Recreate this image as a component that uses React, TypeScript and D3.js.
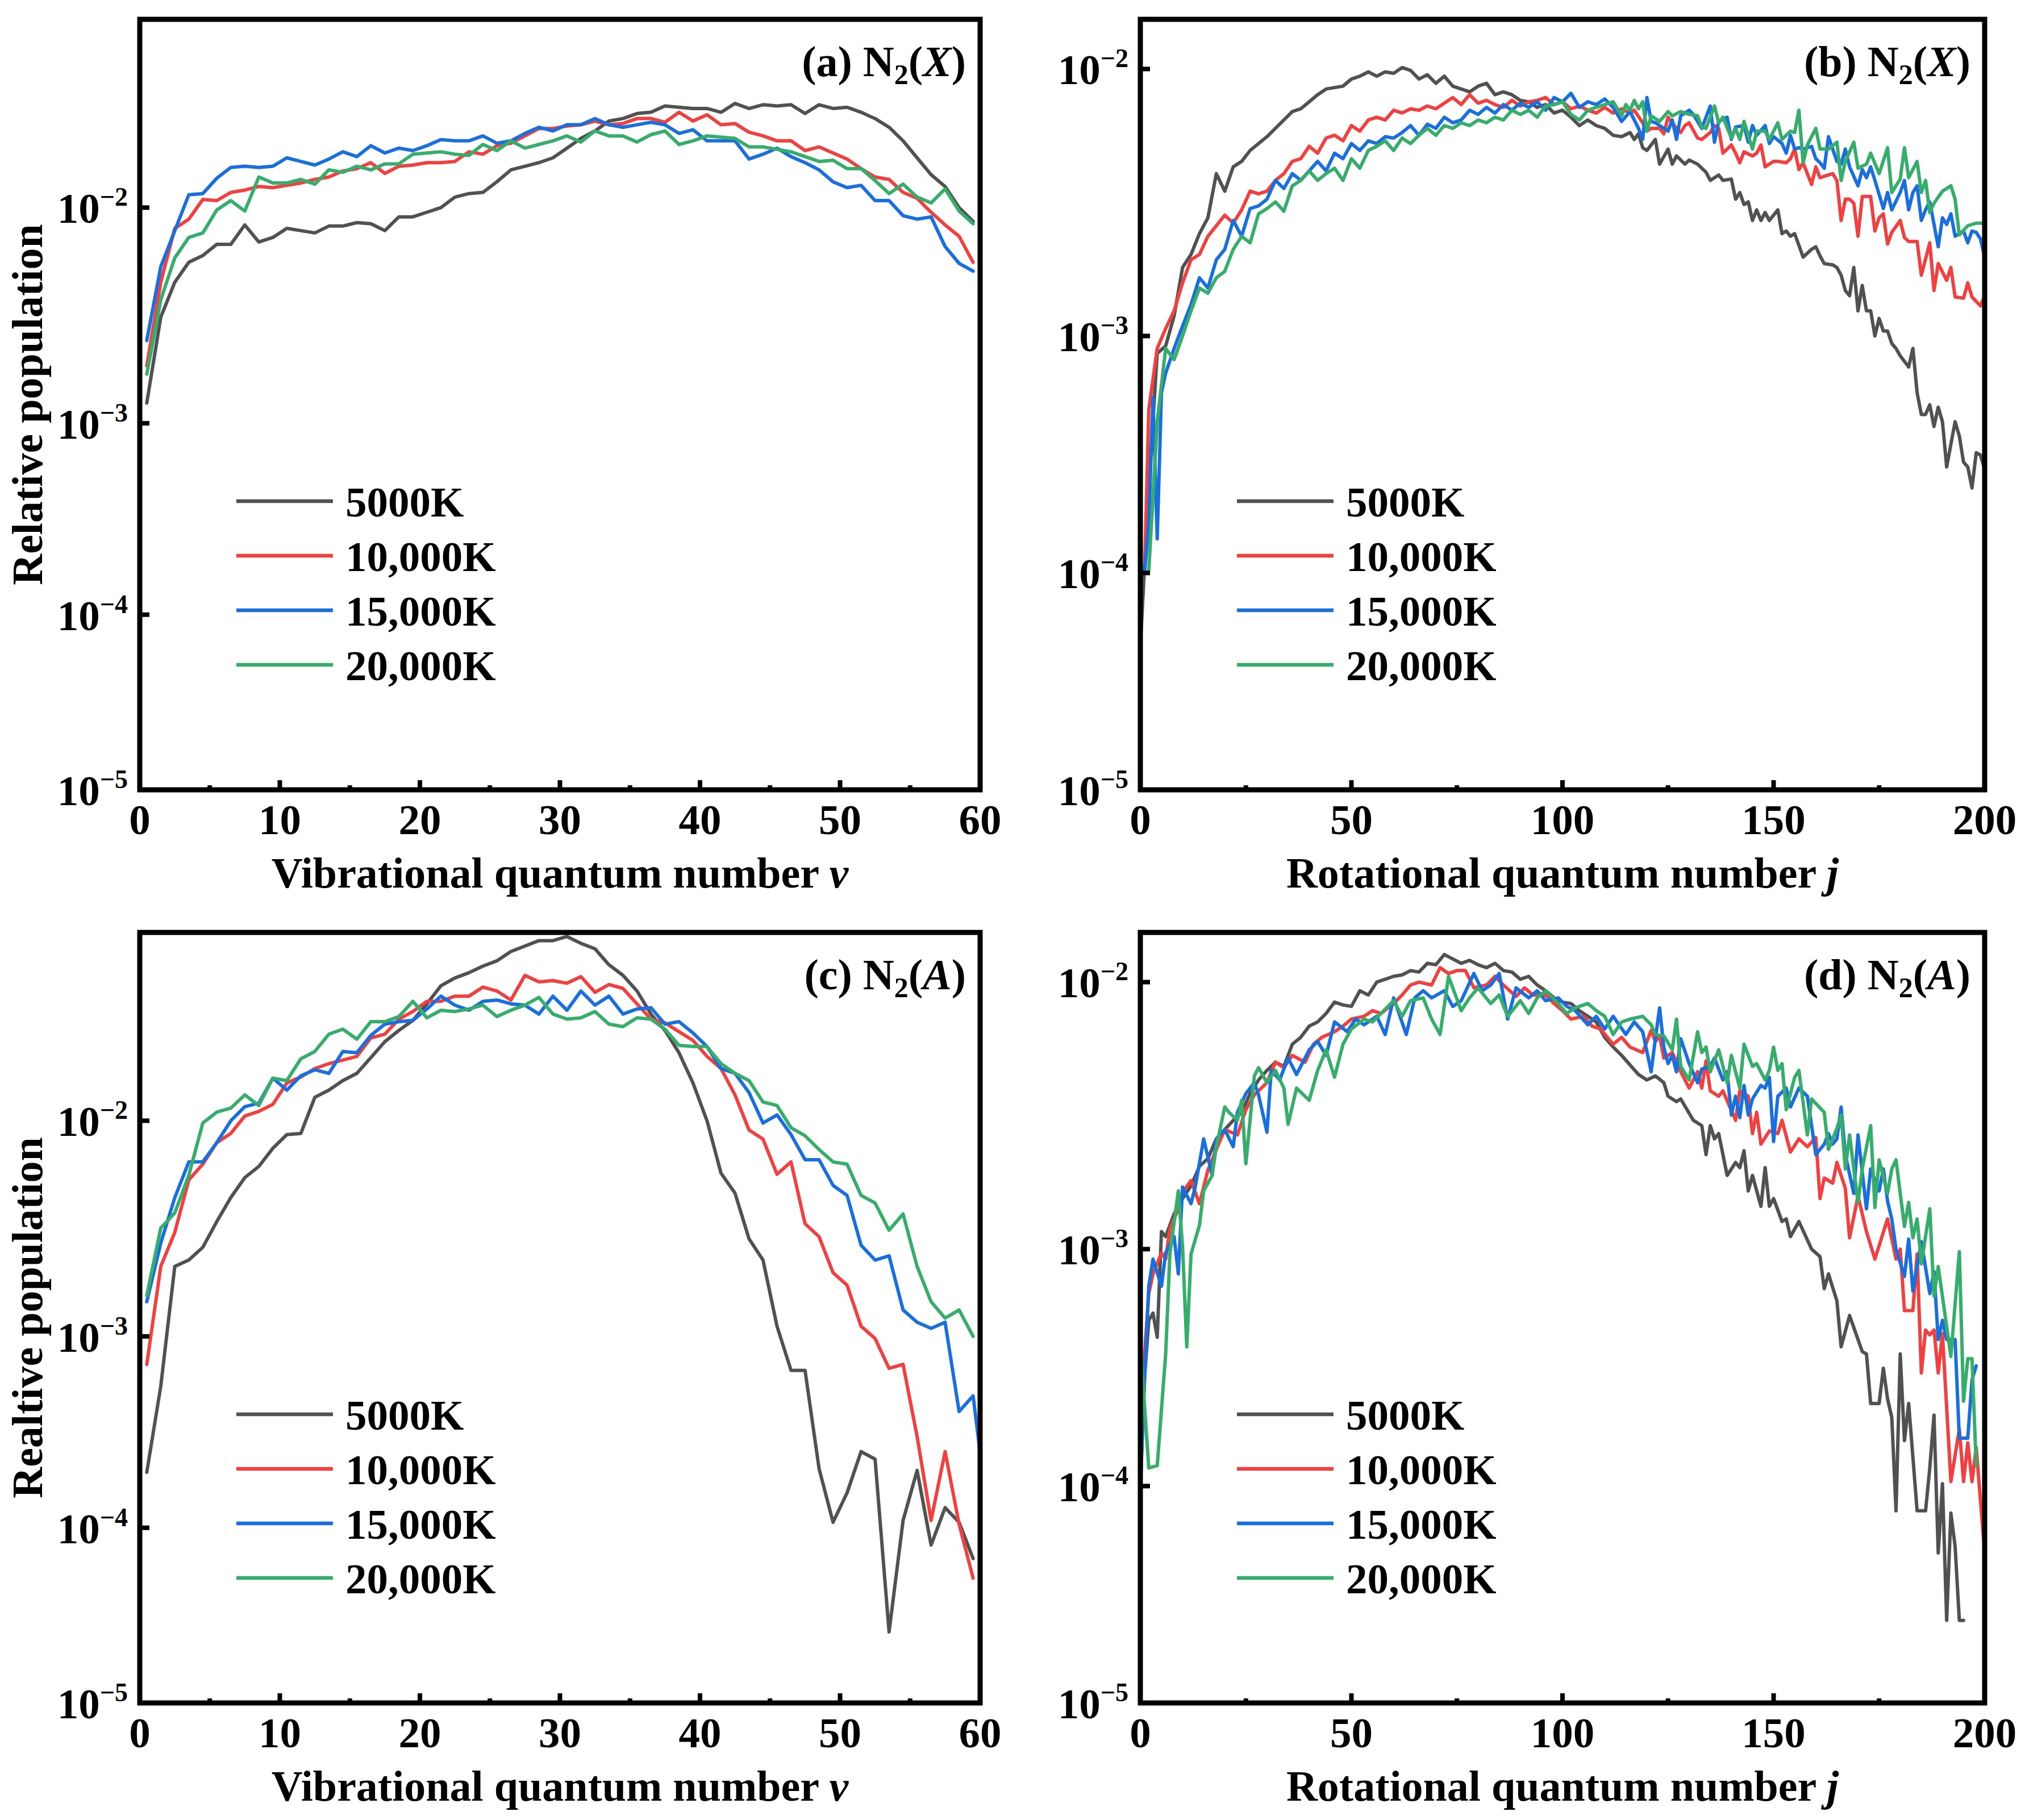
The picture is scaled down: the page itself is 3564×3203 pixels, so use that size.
import * as d3 from "d3";

type Pt = [number, number];

// log10(relative population); vibrational points sit at v = i + 0.5
const vibA5000 = [-2.90, -2.49, -2.33, -2.24, -2.21, -2.16, -2.16, -2.075, -2.15, -2.13,
  -2.09, -2.10, -2.11, -2.08, -2.08, -2.065, -2.07, -2.10, -2.04, -2.04,
  -2.02, -2.00, -1.955, -1.94, -1.935, -1.89, -1.84, -1.825, -1.81, -1.79,
  -1.75, -1.71, -1.68, -1.64, -1.63, -1.61, -1.605, -1.58, -1.585, -1.59,
  -1.59, -1.605, -1.57, -1.59, -1.575, -1.58, -1.575, -1.61, -1.575, -1.59,
  -1.585, -1.605, -1.63, -1.665, -1.72, -1.79, -1.86, -1.91, -2.00, -2.06];
const vibA10000 = [-2.72, -2.33, -2.09, -2.05, -1.965, -1.97, -1.935, -1.925, -1.91, -1.915,
  -1.905, -1.895, -1.88, -1.87, -1.845, -1.835, -1.81, -1.855, -1.825, -1.82,
  -1.81, -1.81, -1.805, -1.765, -1.775, -1.74, -1.73, -1.70, -1.67, -1.67,
  -1.66, -1.655, -1.64, -1.655, -1.65, -1.63, -1.63, -1.645, -1.605, -1.64,
  -1.615, -1.655, -1.65, -1.685, -1.70, -1.72, -1.72, -1.76, -1.745, -1.77,
  -1.795, -1.835, -1.87, -1.88, -1.935, -1.96, -2.02, -2.075, -2.125, -2.24];
const vibA15000 = [-2.60, -2.26, -2.10, -1.945, -1.94, -1.875, -1.83, -1.825, -1.83, -1.825,
  -1.79, -1.805, -1.82, -1.795, -1.765, -1.785, -1.74, -1.77, -1.75, -1.76,
  -1.74, -1.715, -1.72, -1.72, -1.70, -1.73, -1.72, -1.69, -1.665, -1.68,
  -1.655, -1.655, -1.63, -1.655, -1.665, -1.655, -1.645, -1.655, -1.69, -1.675,
  -1.72, -1.72, -1.72, -1.795, -1.775, -1.75, -1.785, -1.81, -1.84, -1.89,
  -1.915, -1.905, -1.97, -1.97, -2.035, -2.05, -2.04, -2.17, -2.245, -2.28];
const vibA20000 = [-2.76, -2.41, -2.22, -2.13, -2.11, -2.01, -1.97, -2.015, -1.87, -1.895,
  -1.895, -1.88, -1.90, -1.84, -1.85, -1.825, -1.84, -1.815, -1.815, -1.775,
  -1.77, -1.765, -1.775, -1.78, -1.735, -1.76, -1.72, -1.75, -1.735, -1.72,
  -1.70, -1.725, -1.68, -1.70, -1.70, -1.725, -1.695, -1.68, -1.735, -1.72,
  -1.70, -1.705, -1.71, -1.745, -1.745, -1.755, -1.765, -1.785, -1.805, -1.80,
  -1.835, -1.835, -1.885, -1.94, -1.90, -1.955, -1.98, -1.92, -2.015, -2.07];

const vibC5000 = [-3.70, -3.25, -2.66, -2.63, -2.57, -2.45, -2.34, -2.25, -2.20, -2.12,
  -2.06, -2.055, -1.90, -1.87, -1.83, -1.80, -1.735, -1.67, -1.625, -1.585,
  -1.52, -1.45, -1.42, -1.40, -1.375, -1.355, -1.32, -1.30, -1.28, -1.28,
  -1.265, -1.29, -1.31, -1.37, -1.41, -1.47, -1.56, -1.625, -1.715, -1.84,
  -2.00, -2.23, -2.32, -2.53, -2.63, -2.95, -3.17, -3.17, -3.68, -3.97,
  -3.81, -3.59, -3.63, -4.585, -3.96, -3.69, -4.095, -3.89, -3.97, -4.17];
const vibC10000 = [-3.14, -2.66, -2.50, -2.26, -2.19, -2.095, -2.055, -1.98, -1.96, -1.93,
  -1.84, -1.815, -1.78, -1.76, -1.745, -1.73, -1.655, -1.64, -1.58, -1.55,
  -1.51, -1.51, -1.49, -1.49, -1.455, -1.47, -1.505, -1.41, -1.435, -1.43,
  -1.44, -1.415, -1.475, -1.445, -1.46, -1.52, -1.58, -1.595, -1.63, -1.665,
  -1.73, -1.78, -1.89, -2.04, -2.08, -2.235, -2.18, -2.46, -2.52, -2.69,
  -2.75, -2.95, -3.01, -3.16, -3.14, -3.51, -3.96, -3.59, -3.98, -4.28];
const vibC15000 = [-2.83, -2.55, -2.34, -2.18, -2.18, -2.095, -2.00, -1.94, -1.925, -1.82,
  -1.87, -1.81, -1.785, -1.80, -1.71, -1.715, -1.645, -1.60, -1.59, -1.585,
  -1.54, -1.49, -1.525, -1.545, -1.51, -1.505, -1.52, -1.525, -1.56, -1.49,
  -1.545, -1.47, -1.525, -1.49, -1.56, -1.54, -1.535, -1.60, -1.59, -1.635,
  -1.69, -1.78, -1.80, -1.88, -2.01, -1.975, -2.06, -2.17, -2.17, -2.285,
  -2.33, -2.56, -2.63, -2.61, -2.87, -2.93, -2.96, -2.93, -3.38, -3.30, -3.9];
const vibC20000 = [-2.80, -2.48, -2.41, -2.24, -2.01, -1.963, -1.946, -1.89, -1.935, -1.82,
  -1.83, -1.74, -1.71, -1.64, -1.62, -1.66, -1.59, -1.59, -1.57, -1.51,
  -1.575, -1.545, -1.55, -1.54, -1.525, -1.57, -1.545, -1.525, -1.495, -1.56,
  -1.58, -1.575, -1.55, -1.60, -1.61, -1.575, -1.58, -1.62, -1.685, -1.69,
  -1.69, -1.76, -1.80, -1.83, -1.92, -1.935, -2.03, -2.065, -2.125, -2.18,
  -2.19, -2.33, -2.365, -2.49, -2.415, -2.66, -2.83, -2.91, -2.87, -3.00];

// rotational: [j, log10(relative population)]
const rotB5000: Pt[] = [[0, -4.33], [2, -3.62], [4, -3.07], [6, -3.04], [8, -2.92], [10, -2.73], [12, -2.68], [14, -2.60], [16, -2.54], [18, -2.375], [20, -2.44], [22, -2.35], [24, -2.33], [26, -2.29], [28, -2.265], [30, -2.24], [32, -2.21], [34, -2.18], [36, -2.15], [38, -2.14], [40, -2.115], [42, -2.09], [44, -2.07], [46, -2.065], [48, -2.06], [50, -2.035], [52, -2.025], [54, -2.01], [56, -2.025], [58, -2.01], [60, -2.015], [62, -1.995], [64, -2.005], [66, -2.035], [68, -2.02], [70, -2.05], [72, -2.025], [74, -2.06], [76, -2.07], [78, -2.08], [80, -2.06], [82, -2.05], [84, -2.09], [86, -2.08], [88, -2.09], [90, -2.11], [92, -2.115], [94, -2.135], [96, -2.125], [98, -2.155], [100, -2.145], [102, -2.17], [104, -2.20], [106, -2.18], [108, -2.20], [110, -2.21], [112, -2.235],
  [114, -2.24], [116, -2.225], [117, -2.25], [118, -2.23], [119, -2.28], [120, -2.29], [122, -2.25], [123, -2.34], [125, -2.285], [126, -2.34], [127, -2.31], [129, -2.34], [130, -2.325], [132, -2.34], [134, -2.37], [135, -2.40], [137, -2.38], [138, -2.40], [140, -2.395], [141, -2.47], [142, -2.445], [143, -2.49], [144, -2.48], [145, -2.55], [146, -2.51], [147, -2.55], [148, -2.52], [149, -2.55], [151, -2.51], [152, -2.60], [153, -2.59], [154, -2.61], [155, -2.60], [157, -2.69], [159, -2.66], [160, -2.65], [161, -2.685], [162, -2.715], [164, -2.72], [165, -2.73], [166, -2.76], [167, -2.82], [168, -2.84], [169, -2.73], [170, -2.90], [171, -2.80], [172, -2.90], [173, -2.90], [174, -3.0], [175, -2.93], [176, -2.98], [177, -2.98], [178, -3.03], [179, -3.05], [180, -3.08], [182, -3.125], [183, -3.05], [184, -3.23], [185, -3.32], [186, -3.32], [187, -3.28], [188, -3.37], [189, -3.29], [190, -3.35], [191, -3.54], [193, -3.35], [194, -3.41], [195, -3.52], [196, -3.54], [197, -3.63], [198, -3.48], [199, -3.49], [200, -3.55]];
const rotB10000: Pt[] = [[1, -4.0], [2, -3.30], [4, -3.05], [6, -2.97], [8, -2.90], [10, -2.79], [12, -2.70], [14, -2.68], [16, -2.61], [18, -2.57], [20, -2.53], [22, -2.56], [24, -2.51], [26, -2.44], [28, -2.45], [30, -2.44], [32, -2.40], [34, -2.375], [36, -2.33], [38, -2.32], [40, -2.275], [42, -2.30], [44, -2.245], [46, -2.235], [48, -2.255], [50, -2.20], [52, -2.22], [54, -2.18], [56, -2.17], [58, -2.18], [60, -2.145], [62, -2.155], [64, -2.14], [66, -2.145], [68, -2.13], [70, -2.14], [72, -2.12], [74, -2.10], [76, -2.125], [78, -2.09], [80, -2.12], [82, -2.11], [84, -2.125], [86, -2.135], [88, -2.11], [90, -2.13], [92, -2.115], [94, -2.11], [96, -2.10], [98, -2.125], [100, -2.115], [102, -2.14], [104, -2.13], [106, -2.145], [108, -2.155], [110, -2.135], [112, -2.155],
  [114, -2.14], [116, -2.155], [117, -2.145], [119, -2.19], [120, -2.22], [121, -2.21], [123, -2.21], [124, -2.23], [125, -2.17], [127, -2.21], [128, -2.225], [129, -2.20], [130, -2.19], [132, -2.245], [133, -2.25], [135, -2.225], [136, -2.20], [137, -2.21], [138, -2.30], [140, -2.27], [141, -2.30], [142, -2.335], [143, -2.295], [145, -2.31], [146, -2.30], [147, -2.27], [148, -2.35], [150, -2.33], [151, -2.33], [153, -2.335], [154, -2.32], [155, -2.285], [156, -2.36], [157, -2.335], [158, -2.375], [159, -2.415], [160, -2.35], [161, -2.39], [163, -2.38], [164, -2.375], [165, -2.40], [166, -2.55], [167, -2.47], [168, -2.47], [169, -2.485], [170, -2.61], [171, -2.46], [173, -2.46], [174, -2.59], [175, -2.54], [176, -2.525], [177, -2.64], [178, -2.595], [180, -2.55], [181, -2.615], [182, -2.63], [184, -2.63], [185, -2.76], [187, -2.635], [188, -2.82], [189, -2.715], [191, -2.78], [192, -2.73], [193, -2.845], [195, -2.85], [196, -2.79], [197, -2.845], [199, -2.88], [200, -2.84]];
const rotB15000: Pt[] = [[1, -4.0], [2, -3.78], [3, -3.25], [4, -3.85], [5, -3.23], [6, -3.15], [8, -3.05], [10, -2.96], [12, -2.875], [14, -2.77], [16, -2.81], [18, -2.70], [20, -2.66], [22, -2.55], [24, -2.61], [26, -2.505], [28, -2.495], [30, -2.47], [32, -2.40], [34, -2.43], [36, -2.375], [38, -2.40], [40, -2.365], [42, -2.33], [44, -2.365], [46, -2.30], [48, -2.32], [50, -2.265], [52, -2.29], [54, -2.255], [56, -2.265], [58, -2.24], [60, -2.245], [62, -2.225], [64, -2.20], [66, -2.235], [68, -2.195], [70, -2.21], [72, -2.17], [74, -2.19], [76, -2.18], [78, -2.145], [80, -2.16], [82, -2.135], [84, -2.155], [86, -2.125], [88, -2.145], [90, -2.12], [92, -2.135], [94, -2.115], [96, -2.145], [98, -2.10], [100, -2.115], [102, -2.085], [104, -2.135], [106, -2.115], [108, -2.125], [110, -2.105], [112, -2.135],
  [114, -2.185], [116, -2.15], [118, -2.21], [119, -2.25], [120, -2.10], [121, -2.185], [122, -2.19], [123, -2.20], [125, -2.22], [126, -2.18], [127, -2.25], [128, -2.165], [130, -2.145], [131, -2.16], [133, -2.21], [134, -2.17], [135, -2.13], [136, -2.26], [137, -2.185], [139, -2.17], [140, -2.25], [141, -2.205], [143, -2.20], [144, -2.26], [145, -2.20], [146, -2.235], [148, -2.20], [149, -2.265], [150, -2.24], [152, -2.265], [153, -2.30], [154, -2.235], [155, -2.285], [156, -2.28], [157, -2.285], [159, -2.275], [160, -2.32], [161, -2.335], [162, -2.355], [163, -2.24], [165, -2.33], [166, -2.34], [167, -2.285], [168, -2.35], [170, -2.42], [171, -2.36], [172, -2.39], [173, -2.35], [174, -2.40], [176, -2.505], [177, -2.445], [178, -2.51], [180, -2.445], [181, -2.40], [182, -2.51], [183, -2.445], [184, -2.42], [185, -2.55], [186, -2.51], [187, -2.48], [189, -2.65], [190, -2.54], [191, -2.565], [192, -2.525], [193, -2.61], [195, -2.59], [196, -2.635], [197, -2.59], [198, -2.595], [199, -2.62], [200, -2.69]];
const rotB20000: Pt[] = [[1, -4.0], [2, -3.99], [4, -3.35], [6, -3.05], [8, -3.095], [10, -3.0], [12, -2.90], [14, -2.81], [16, -2.83], [18, -2.77], [20, -2.745], [22, -2.66], [24, -2.61], [26, -2.635], [28, -2.525], [30, -2.505], [32, -2.48], [34, -2.515], [36, -2.42], [38, -2.40], [40, -2.365], [42, -2.40], [44, -2.375], [46, -2.355], [48, -2.40], [50, -2.32], [52, -2.355], [54, -2.29], [56, -2.275], [58, -2.255], [60, -2.29], [62, -2.245], [64, -2.265], [66, -2.235], [68, -2.21], [70, -2.235], [72, -2.20], [74, -2.21], [76, -2.19], [78, -2.20], [80, -2.18], [82, -2.19], [84, -2.17], [86, -2.18], [88, -2.145], [90, -2.16], [92, -2.145], [94, -2.17], [96, -2.13], [98, -2.125], [100, -2.115], [102, -2.16], [104, -2.18], [106, -2.145], [108, -2.135], [110, -2.125], [112, -2.115],
  [114, -2.165], [115, -2.125], [116, -2.145], [117, -2.11], [118, -2.14], [119, -2.115], [120, -2.22], [121, -2.165], [123, -2.185], [125, -2.15], [126, -2.165], [128, -2.15], [130, -2.16], [132, -2.165], [133, -2.205], [134, -2.21], [136, -2.13], [137, -2.19], [138, -2.17], [140, -2.245], [141, -2.21], [142, -2.25], [143, -2.185], [145, -2.285], [146, -2.22], [148, -2.22], [149, -2.25], [151, -2.19], [152, -2.25], [154, -2.22], [155, -2.225], [156, -2.145], [157, -2.335], [158, -2.27], [160, -2.21], [161, -2.285], [163, -2.285], [165, -2.26], [166, -2.40], [167, -2.33], [169, -2.26], [170, -2.355], [172, -2.34], [173, -2.30], [175, -2.375], [177, -2.28], [178, -2.445], [180, -2.395], [181, -2.28], [182, -2.39], [184, -2.33], [185, -2.445], [186, -2.40], [187, -2.52], [188, -2.485], [190, -2.44], [192, -2.42], [193, -2.47], [194, -2.605], [196, -2.57], [198, -2.56], [200, -2.56]];

const rotD5000: Pt[] = [[0, -4.0], [1, -3.53], [2, -3.29], [3, -3.26], [4, -3.36], [5, -2.93], [6, -2.95], [8, -2.86], [10, -2.80], [12, -2.75], [14, -2.675], [16, -2.645], [18, -2.57], [20, -2.535], [22, -2.50], [24, -2.47], [26, -2.40], [28, -2.35], [30, -2.315], [32, -2.285], [34, -2.30], [36, -2.22], [38, -2.195], [40, -2.155], [42, -2.14], [44, -2.11], [46, -2.07], [48, -2.08], [50, -2.085], [52, -2.03], [54, -2.045], [56, -2.0], [58, -1.99], [60, -1.98], [62, -1.975], [64, -1.96], [66, -1.965], [68, -1.935], [70, -1.94], [72, -1.905], [74, -1.92], [76, -1.935], [78, -1.925], [80, -1.94], [82, -1.95], [84, -1.935], [86, -1.96], [88, -1.965], [90, -1.99], [92, -1.98], [94, -2.01], [96, -2.03], [98, -2.055], [100, -2.07], [102, -2.075], [104, -2.10], [106, -2.12], [108, -2.14], [110, -2.195], [112, -2.23], [114, -2.26], [116, -2.295], [118, -2.33], [120, -2.35],
  [122, -2.335], [124, -2.36], [125, -2.41], [127, -2.43], [128, -2.42], [131, -2.50], [133, -2.52], [134, -2.63], [135, -2.52], [136, -2.57], [137, -2.55], [139, -2.71], [141, -2.66], [142, -2.68], [143, -2.615], [144, -2.77], [145, -2.71], [147, -2.83], [148, -2.68], [149, -2.83], [150, -2.80], [152, -2.89], [153, -2.88], [154, -2.95], [156, -2.89], [159, -3.0], [161, -3.03], [162, -3.16], [163, -3.10], [165, -3.21], [166, -3.40], [168, -3.27], [171, -3.42], [172, -3.43], [173, -3.64], [175, -3.64], [176, -3.49], [177, -3.62], [178, -3.70], [179, -4.11], [180, -3.43], [181, -3.80], [182, -3.64], [184, -4.11], [186, -4.11], [187, -3.92], [188, -3.69], [189, -4.30], [190, -3.99], [191, -4.61], [192, -4.12], [193, -4.27], [194, -4.61], [195, -4.61]];
const rotD10000: Pt[] = [[0, -3.78], [1, -3.43], [2, -3.18], [3, -3.10], [5, -3.015], [6, -3.04], [7, -2.92], [9, -2.84], [10, -2.775], [12, -2.73], [14, -2.82], [16, -2.69], [18, -2.61], [20, -2.535], [23, -2.555], [25, -2.46], [27, -2.405], [30, -2.36], [32, -2.285], [34, -2.305], [36, -2.26], [39, -2.285], [41, -2.22], [43, -2.195], [46, -2.175], [48, -2.155], [50, -2.13], [53, -2.12], [55, -2.10], [57, -2.11], [60, -2.075], [62, -2.045], [64, -2.01], [66, -2.0], [69, -2.01], [71, -1.95], [73, -1.97], [75, -1.96], [77, -1.96], [79, -2.02], [82, -2.01], [84, -1.98], [86, -2.01], [89, -2.05], [91, -2.02], [93, -2.045], [96, -2.045], [98, -2.075], [100, -2.10], [102, -2.13], [105, -2.12], [107, -2.155], [109, -2.165], [112, -2.22], [114, -2.195], [116, -2.23], [119, -2.25],
  [121, -2.17], [122, -2.21], [123, -2.19], [124, -2.27], [126, -2.25], [128, -2.32], [130, -2.38], [132, -2.32], [133, -2.38], [134, -2.28], [135, -2.39], [137, -2.41], [138, -2.39], [141, -2.50], [142, -2.39], [144, -2.41], [145, -2.55], [146, -2.47], [147, -2.59], [149, -2.54], [151, -2.55], [152, -2.50], [154, -2.62], [156, -2.57], [158, -2.60], [160, -2.565], [161, -2.80], [162, -2.72], [164, -2.74], [165, -2.66], [167, -2.76], [168, -2.955], [170, -2.79], [172, -2.93], [174, -3.04], [177, -2.88], [179, -3.04], [180, -3.0], [181, -3.25], [183, -3.25], [184, -3.02], [185, -3.51], [186, -3.33], [187, -3.35], [188, -3.33], [189, -3.51], [190, -3.345], [192, -3.98], [194, -3.75], [195, -3.98], [196, -3.81], [197, -3.98], [198, -3.83], [200, -4.30]];
const rotD15000: Pt[] = [[0, -4.02], [1, -3.53], [2, -3.15], [3, -3.04], [5, -3.15], [6, -3.015], [8, -2.95], [9, -3.10], [10, -2.755], [12, -2.82], [13, -2.755], [15, -2.57], [17, -2.71], [18, -2.57], [20, -2.535], [22, -2.60], [23, -2.47], [25, -2.40], [27, -2.36], [28, -2.405], [30, -2.545], [31, -2.315], [33, -2.35], [35, -2.27], [37, -2.33], [40, -2.24], [42, -2.21], [44, -2.26], [46, -2.14], [49, -2.175], [51, -2.13], [53, -2.15], [56, -2.12], [58, -2.185], [60, -2.055], [63, -2.185], [65, -2.055], [67, -2.03], [69, -2.055], [72, -2.03], [74, -2.085], [76, -2.065], [79, -1.97], [81, -2.03], [83, -2.01], [85, -1.97], [87, -2.13], [89, -2.02], [92, -2.055], [94, -2.03], [96, -2.065], [99, -2.055], [101, -2.085], [103, -2.10], [106, -2.15], [108, -2.12], [110, -2.165], [112, -2.12], [115, -2.185], [117, -2.14], [119, -2.175],
  [121, -2.32], [122, -2.20], [123, -2.09], [124, -2.23], [125, -2.29], [126, -2.26], [127, -2.32], [128, -2.20], [130, -2.29], [132, -2.36], [133, -2.31], [135, -2.30], [136, -2.27], [138, -2.35], [139, -2.32], [140, -2.48], [141, -2.41], [142, -2.49], [143, -2.37], [144, -2.48], [145, -2.42], [147, -2.37], [148, -2.38], [149, -2.34], [150, -2.58], [151, -2.41], [153, -2.38], [154, -2.45], [156, -2.38], [158, -2.41], [159, -2.52], [160, -2.63], [162, -2.59], [163, -2.55], [164, -2.59], [165, -2.57], [166, -2.45], [167, -2.63], [169, -2.78], [170, -2.555], [172, -2.84], [173, -2.685], [175, -2.77], [176, -2.685], [177, -2.81], [178, -2.88], [179, -3.0], [181, -3.11], [182, -2.96], [183, -3.17], [185, -2.97], [187, -3.18], [188, -3.09], [189, -3.37], [190, -3.29], [191, -3.37], [193, -3.37], [194, -3.79], [196, -3.79], [197, -3.54], [198, -3.48]];
const rotD20000: Pt[] = [[0, -3.39], [2, -3.92], [4, -3.91], [6, -3.43], [7, -3.02], [9, -2.77], [10, -2.99], [11, -3.4], [12, -3.02], [14, -2.905], [15, -2.77], [17, -2.71], [18, -2.60], [20, -2.45], [21, -2.47], [23, -2.50], [24, -2.425], [25, -2.665], [27, -2.335], [28, -2.305], [30, -2.36], [32, -2.315], [34, -2.38], [35, -2.515], [37, -2.38], [40, -2.425], [42, -2.315], [44, -2.24], [46, -2.34], [48, -2.22], [50, -2.165], [53, -2.13], [55, -2.14], [57, -2.11], [60, -2.065], [62, -2.12], [64, -2.065], [67, -2.055], [69, -2.13], [71, -2.185], [73, -1.98], [76, -2.10], [78, -2.055], [80, -2.02], [83, -2.075], [85, -2.045], [87, -2.12], [90, -2.065], [92, -2.11], [94, -2.055], [96, -2.03], [99, -2.075], [101, -2.11], [103, -2.09], [106, -2.075], [108, -2.10], [110, -2.12], [112, -2.185], [114, -2.14], [116, -2.13], [119, -2.12],
  [121, -2.15], [122, -2.185], [124, -2.19], [126, -2.24], [127, -2.13], [128, -2.30], [130, -2.35], [132, -2.175], [133, -2.25], [134, -2.23], [135, -2.32], [137, -2.24], [139, -2.36], [140, -2.26], [142, -2.38], [143, -2.22], [145, -2.30], [146, -2.29], [148, -2.35], [149, -2.315], [150, -2.23], [151, -2.315], [152, -2.29], [153, -2.46], [155, -2.34], [156, -2.315], [158, -2.555], [159, -2.42], [162, -2.47], [163, -2.61], [165, -2.53], [166, -2.48], [167, -2.685], [168, -2.555], [170, -2.815], [171, -2.685], [173, -2.52], [174, -2.835], [175, -2.65], [177, -2.78], [178, -2.685], [179, -2.65], [181, -2.91], [182, -2.815], [183, -2.955], [184, -2.88], [185, -3.06], [187, -2.84], [188, -3.19], [189, -3.07], [192, -3.44], [194, -3.01], [195, -3.63], [196, -3.45], [197, -3.45], [198, -3.91]];

const temps = ["5000K", "10,000K", "15,000K", "20,000K"];
const colors = ["#515151", "#F14040", "#1A6FDF", "#37AD6B"];
const decades = [-2, -3, -4, -5];

const FONT = "'Liberation Serif', 'Times New Roman', serif";

const vib = (arr: number[]): Pt[] => arr.map((v, i) => [i + 0.5, v]);

interface PanelProps {
  id: string;
  box: [number, number, number, number];
  xMax: number;
  xStep: number;
  nTop: number;
  series: Pt[][];
  letter: string;
  state: string;
  xTitle: string;
  xVar: string;
  yTitle?: string;
}

function Panel({ id, box, xMax, xStep, nTop, series, letter, state, xTitle, xVar, yTitle }: PanelProps) {
  const [x0, x1, y0, y1] = box;
  const x = d3.scaleLinear().domain([0, xMax]).range([x0, x1]);
  // the log axis in the figure is not evenly spaced per decade: a power law on -log10 fits it
  const yp = d3.scalePow().exponent(0.65).domain([nTop, 5]).range([y0, y1]);
  const y = (e: number) => yp(-e);
  const line = d3.line<Pt>().x(d => x(d[0])).y(d => y(d[1]));
  const major = d3.range(0, xMax + 1, xStep);
  const minor = d3.range(xStep / 2, xMax, xStep);

  return (
    <g fontFamily={FONT} fontWeight="bold">
      <defs>
        <clipPath id={id}>
          <rect x={x0} y={y0} width={x1 - x0} height={y1 - y0} />
        </clipPath>
      </defs>
      <g clipPath={`url(#${id})`}>
        {series.map((s, k) => (
          <path key={k} d={line(s)!} fill="none" stroke={colors[k]} strokeWidth={6}
            strokeLinejoin="round" strokeLinecap="round" />
        ))}
      </g>

      {/* legend */}
      {temps.map((t, k) => {
        const ly = y0 + 848 + k * 96;
        return (
          <g key={t}>
            <line x1={x0 + 170} x2={x0 + 340} y1={ly} y2={ly} stroke={colors[k]} strokeWidth={6.5} />
            <text x={x0 + 362} y={ly + 27} fontSize={75}>{t}</text>
          </g>
        );
      })}

      {/* frame and ticks */}
      <rect x={x0} y={y0} width={x1 - x0} height={y1 - y0} fill="none" stroke="#000" strokeWidth={9} />
      {major.map(t => (
        <g key={"M" + t}>
          <line x1={x(t)} x2={x(t)} y1={y1} y2={y1 - 17} stroke="#000" strokeWidth={8} />
          <text x={x(t)} y={y1 + 78} fontSize={75} textAnchor="middle">{t}</text>
        </g>
      ))}
      {minor.map(t => (
        <line key={"m" + t} x1={x(t)} x2={x(t)} y1={y1} y2={y1 - 8} stroke="#000" strokeWidth={8} />
      ))}
      {decades.map(e => (
        <g key={"y" + e}>
          <line x1={x0} x2={x0 + 17} y1={y(e)} y2={y(e)} stroke="#000" strokeWidth={8} />
          <text x={x0 - 21} y={y(e) + 27} fontSize={75} textAnchor="end">
            10<tspan dy={-30} fontSize={46}>{"\u2212" + -e}</tspan>
          </text>
        </g>
      ))}

      {/* titles */}
      <text x={(x0 + x1) / 2} y={y1 + 172} fontSize={76} textAnchor="middle">
        {xTitle} <tspan fontStyle="italic">{xVar}</tspan>
      </text>
      {yTitle && (
        <text transform={`translate(74,${(y0 + y1) / 2}) rotate(-90)`} fontSize={76} textAnchor="middle">
          {yTitle}
        </text>
      )}
      <text x={x1 - 25} y={y0 + 100} fontSize={76} textAnchor="end">
        ({letter}) N<tspan dy={14} fontSize={50}>2</tspan>
        <tspan dy={-14}>(</tspan><tspan fontStyle="italic">{state}</tspan>)
      </text>
    </g>
  );
}

export default function App() {
  return (
    <>
      <style>{"body{margin:0}"}</style>
      <svg width={3564} height={3203} style={{ display: "block", background: "#fff" }}>
        <rect width={3564} height={3203} fill="#fff" />
        <Panel id="pa" box={[246, 1725, 34, 1390]} xMax={60} xStep={10} nTop={1.25}
          series={[vib(vibA5000), vib(vibA10000), vib(vibA15000), vib(vibA20000)]}
          letter="a" state="X" xTitle="Vibrational quantum number" xVar="v" yTitle="Relative population" />
        <Panel id="pb" box={[2007, 3493, 34, 1390]} xMax={200} xStep={50} nTop={1.83}
          series={[rotB5000, rotB10000, rotB15000, rotB20000]}
          letter="b" state="X" xTitle="Rotational quantum number" xVar="j" />
        <Panel id="pc" box={[246, 1725, 1641, 2997]} xMax={60} xStep={10} nTop={1.25}
          series={[vib(vibC5000), vib(vibC10000), vib(vibC15000), vib(vibC20000)]}
          letter="c" state="A" xTitle="Vibrational quantum number" xVar="v" yTitle="Realtive population" />
        <Panel id="pd" box={[2007, 3493, 1641, 2997]} xMax={200} xStep={50} nTop={1.83}
          series={[rotD5000, rotD10000, rotD15000, rotD20000]}
          letter="d" state="A" xTitle="Rotational quantum number" xVar="j" />
      </svg>
    </>
  );
}
